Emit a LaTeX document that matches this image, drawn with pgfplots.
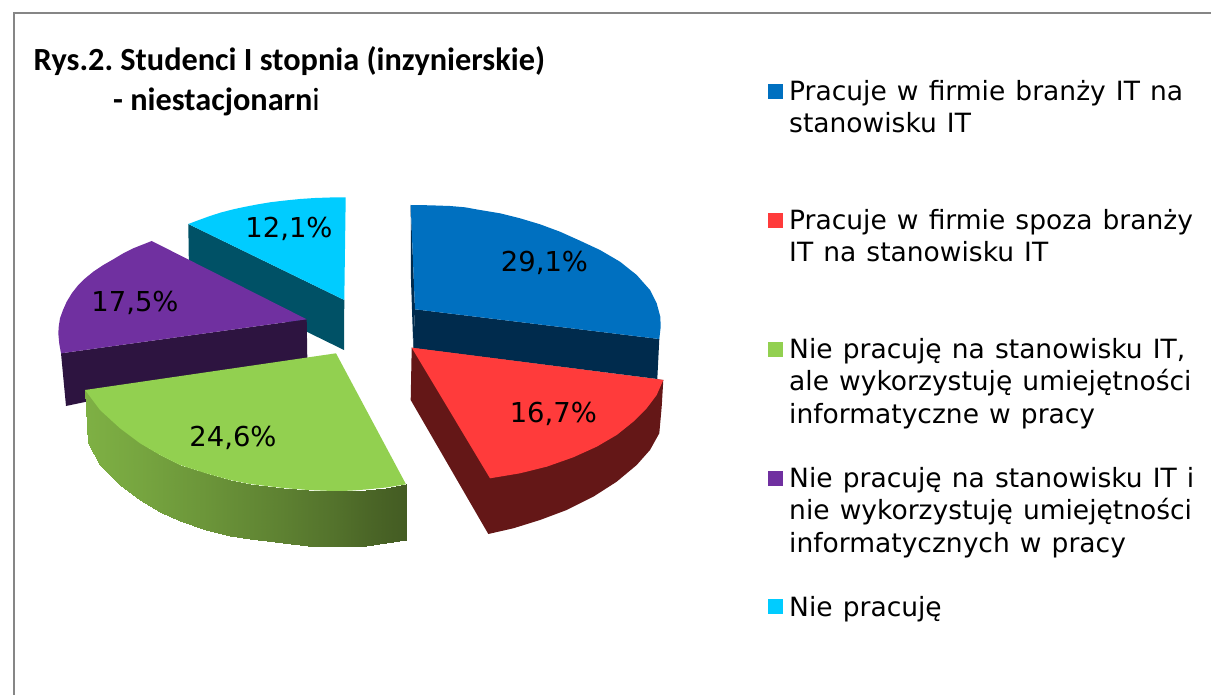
\documentclass[border=0pt]{standalone}
\usepackage{fontspec}
\usepackage{pgfplots}
\pgfplotsset{compat=1.18}
\setmainfont{DejaVu Sans}
\newfontfamily\legf[WordSpace=1.2]{DejaVu Sans}
\newfontfamily\titlefont{Carlito}
\definecolor{cB}{HTML}{0070C0}\definecolor{cBs}{HTML}{002B4D}
\definecolor{cR}{HTML}{FF3B3B}\definecolor{cRs}{HTML}{641717}
\definecolor{cG}{HTML}{92D050}
\definecolor{cP}{HTML}{7030A0}\definecolor{cPs}{HTML}{2D1440}
\definecolor{cC}{HTML}{00CCFF}\definecolor{cCs}{HTML}{005166}
\definecolor{frame}{HTML}{868686}
\newcommand\lab[3]{\node[anchor=base,inner sep=0pt,font=\fontsize{27.4}{32}\selectfont] at (axis cs:#1,#2) {#3};}
\newcommand\leg[3]{\node[anchor=base west,inner sep=0pt,font=\legf\fontsize{26.5}{32}\selectfont] at (axis cs:#1,#2) {#3};}
\begin{document}
\frenchspacing
\begin{tikzpicture}
\begin{axis}[scale only axis,width=1211pt,height=695pt,xmin=0,xmax=1211,ymin=0,ymax=695,y dir=reverse,axis lines=none,clip=true,
  colormap={gg}{rgb255=(126,176,68) rgb255=(68,92,35)},point meta min=0,point meta max=1]
\addplot[draw=none] coordinates {(0,0) (1211,695)};
% frame
\addplot[frame,line width=2pt] coordinates {(14,695) (14,13) (1211,13)};
% cyan
\addplot[fill=cCs,draw=none] coordinates {(188.3,224) (344.3,300) (344,350) (189,274)} --cycle;
\addplot[fill=cC,draw=none] coordinates {(188.3,224) (199,220) (210,216) (221,212.5) (233.3,209.3) (245,206.8) (258,204.3) (270,202.3) (283.3,200.7) (300,199) (315,198) (330,197.5) (345.7,197.3) (344.3,300)} --cycle;
% purple
\addplot[fill=cPs,draw=none] coordinates {(61,353.3) (306.7,319.3) (307.3,358) (85,402) (66,406)} --cycle;
\addplot[fill=cP,draw=none] coordinates {(151.7,241) (133.3,248.3) (123,253.5) (113.3,259.3) (103,265.2) (93.3,271.7) (85,278.5) (78.3,285) (72,293) (66.7,301.7) (63,310) (60,318.3) (58.8,326) (58.3,333.3) (59.3,344) (61,353.3) (306.7,319.3)} --cycle;
% blue
\addplot[fill=cBs,draw=none] coordinates {(410.7,205) (415,309.3) (413.3,348) (411,280)} --cycle;
\addplot[fill=cBs,draw=none] coordinates {(415,309.3) (659.3,339) (657.3,379) (413.3,348)} --cycle;
\addplot[fill=cB,draw=none] coordinates {(410.7,205) (430,205.3) (450,206) (465,207.3) (480,210) (500,213.3) (520,218.3) (540,224.3) (560,231.7) (580,240.7) (600,250) (620,261.7) (636.7,275) (650,290) (656.7,303.3) (660.3,316.7) (660.7,326.7) (659.3,339) (415,309.3)} --cycle;
% red
\addplot[fill=cRs,draw=none] coordinates {(411.7,347.7) (663.3,380) (661.7,406.7) (659.3,433.3) (650,450) (636.7,465) (616.7,481.7) (593.3,496.7) (566.7,510) (540,520) (513.3,528.3) (488.3,534) (410.7,400)} --cycle;
\addplot[fill=cR,draw=none] coordinates {(411.7,347.7) (663.3,380) (656.7,395) (646.7,408.3) (633.3,421.7) (616.7,435) (596.7,446.7) (573.3,457.3) (546.7,466.7) (520,473.3) (490,478.3)} --cycle;
% green side, shaded
\addplot[patch,patch type=rectangle,shader=interp,point meta=explicit] coordinates {
(85,390) [0] (100,410) [.03] (100,464.5) [.03] (88.3,443.3) [0]
(100,410) [.03] (120,428.3) [.08] (120,485) [.08] (100,464.5) [.03]
(120,428.3) [.08] (140,443.3) [.13] (140,500) [.13] (120,485) [.08]
(140,443.3) [.13] (160,455) [.19] (160,511.7) [.19] (140,500) [.13]
(160,455) [.19] (180,465) [.25] (180,521) [.25] (160,511.7) [.19]
(180,465) [.25] (206,473.3) [.32] (206,530) [.32] (180,521) [.25]
(206,473.3) [.32] (230,480) [.4] (230,535.7) [.4] (206,530) [.32]
(230,480) [.4] (250,484) [.46] (250,539.3) [.46] (230,535.7) [.4]
(250,484) [.46] (283,488) [.56] (283,543) [.56] (250,539.3) [.46]
(283,488) [.56] (308,490) [.65] (308,545.5) [.65] (283,543) [.56]
(308,490) [.65] (333,491) [.73] (333,546.5) [.73] (308,545.5) [.65]
(333,491) [.73] (350,490.7) [.8] (350,546.5) [.8] (333,546.5) [.73]
(350,490.7) [.8] (366,489.5) [.87] (366,545.5) [.87] (350,546.5) [.8]
(366,489.5) [.87] (386,487.5) [.94] (386,543) [.94] (366,545.5) [.87]
(386,487.5) [.94] (406,484.3) [1] (406,540) [1] (386,543) [.94]
};
% green top
\addplot[fill=cG,draw=none] coordinates {(85,390) (336,353.3) (406,484.3) (386,487.5) (366,489.5) (350,490.7) (333,491) (308,490) (283,488) (250,484) (230,480) (206,473.3) (180,465) (160,455) (140,443.3) (120,428.3) (100,410)} --cycle;
% legend keys
\addplot[fill=cB,draw=none] coordinates {(768,84) (783,84) (783,99) (768,99)} --cycle;
\addplot[fill=cR,draw=none] coordinates {(768,213) (783,213) (783,228) (768,228)} --cycle;
\addplot[fill=cG,draw=none] coordinates {(768,342) (783,342) (783,357) (768,357)} --cycle;
\addplot[fill=cP,draw=none] coordinates {(768,471) (783,471) (783,486) (768,486)} --cycle;
\addplot[fill=cC,draw=none] coordinates {(768,599) (783,599) (783,614) (768,614)} --cycle;
% data labels
\lab{544.5}{272}{29,1\%}
\lab{553.3}{422}{16,7\%}
\lab{233}{446}{24,6\%}
\lab{135}{312}{17,5\%}
\lab{289}{238}{12,1\%}
% legend text
\leg{789}{101}{Pracuje w firmie branży IT na}
\leg{789}{133}{stanowisku IT}
\leg{789}{230}{Pracuje w firmie spoza branży}
\leg{789}{262}{IT na stanowisku IT}
\leg{789}{358}{Nie pracuję na stanowisku IT,}
\leg{789}{390}{ale wykorzystuję umiejętności}
\leg{789}{423}{informatyczne w pracy}
\leg{789}{487}{Nie pracuję na stanowisku IT i}
\leg{789}{519}{nie wykorzystuję umiejętności}
\leg{789}{552}{informatycznych w pracy}
\leg{789}{616}{Nie pracuję}
% title
\node[anchor=base west,inner sep=0pt,font=\titlefont\fontsize{32.3}{36}\selectfont\bfseries] at (axis cs:33.5,71) {Rys.2. Studenci I stopnia (inzynierskie)};
\node[anchor=base west,inner sep=0pt,font=\titlefont\fontsize{32.3}{36}\selectfont] at (axis cs:113,111) {\textbf{- niestacjonarn}i};
\end{axis}
\end{tikzpicture}
\end{document}
